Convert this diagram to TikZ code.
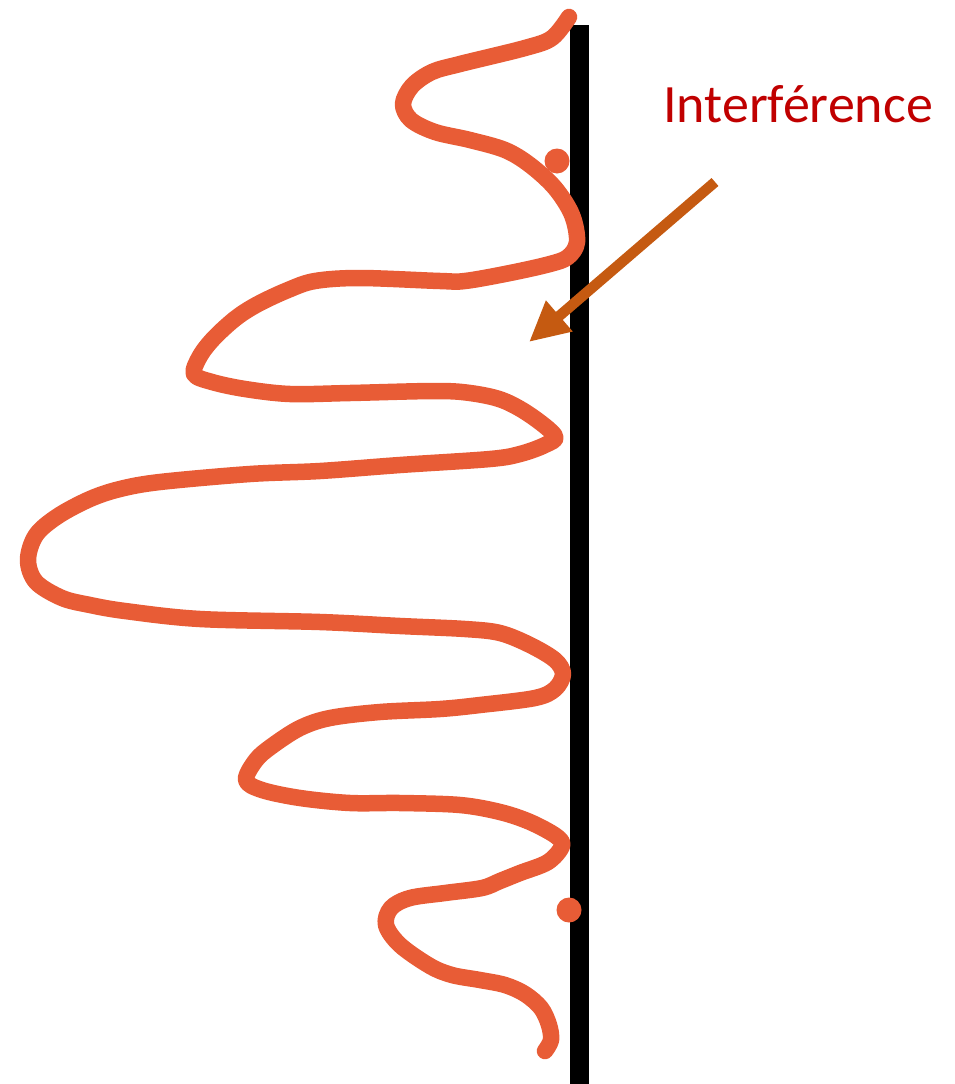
\documentclass[tikz,border=0pt]{standalone}
\usepackage{fontspec}
\setmainfont{Carlito}
\usetikzlibrary{arrows.meta}
\definecolor{wave}{RGB}{232,92,54}
\definecolor{arrowc}{RGB}{197,90,17}
\definecolor{labelc}{RGB}{192,0,0}
\begin{document}
\begin{tikzpicture}[x=1pt,y=-1pt]
        \useasboundingbox (0,0) rectangle (955,1084);
        \fill[black] (570,25) rectangle (589,1084);

        \draw[wave, line width=16.5pt, line cap=round, line join=round] plot[smooth, tension=0.55] coordinates {
            (569,17) (552,38) (525,48) (460,64) (432,72) (412,86) (403,104) (411,120) (435,132)
            (470,140) (505,150) (530,165) (555,188) (572,215) (577,242) (568,257) (550,264)
            (510,273) (465,281) (440,281) (360,278) (315,281) (288,290) (258,304) (236,318)
            (214,338) (200,356) (194,374) (212,382) (245,389) (290,394) (350,393) (435,391)
            (470,393) (502,400) (530,415) (555,436) (545,445) (520,454) (490,459) (400,465)
            (320,471) (250,474) (160,482) (120,489) (90,499) (58,516) (36,535) (28,560)
            (36,582) (62,598) (90,605) (125,611) (200,619) (320,622) (400,626) (465,629)
            (500,633) (530,645) (555,660) (563,674) (555,689) (535,698) (480,705) (440,709)
            (380,712) (330,718) (300,728) (272,746) (256,760) (246,780) (262,790) (300,798)
            (350,803) (400,803) (460,805) (500,812) (530,822) (556,836) (562,846) (548,862)
            (520,873) (500,881) (482,888) (445,893) (410,898) (391,908) (386,925) (400,945)
            (430,966) (452,975) (480,980) (505,985) (525,994) (541,1008) (549,1025)
            (551,1040) (545,1051)
        };
        \fill[wave] (557,161) circle (12.5);
        \fill[wave] (569,910) circle (12.5);

        \draw (798,104) node [text=labelc, font=\fontsize{54}{64}\selectfont] (interf) {Interférence};
        \coordinate (from) at (715,182);
        \coordinate (to) at (529,342);
        \draw[arrowc, line width=10.5pt, -{Triangle[length=40pt, width=38pt]}] (from) -- (to);
\end{tikzpicture}
\end{document}
